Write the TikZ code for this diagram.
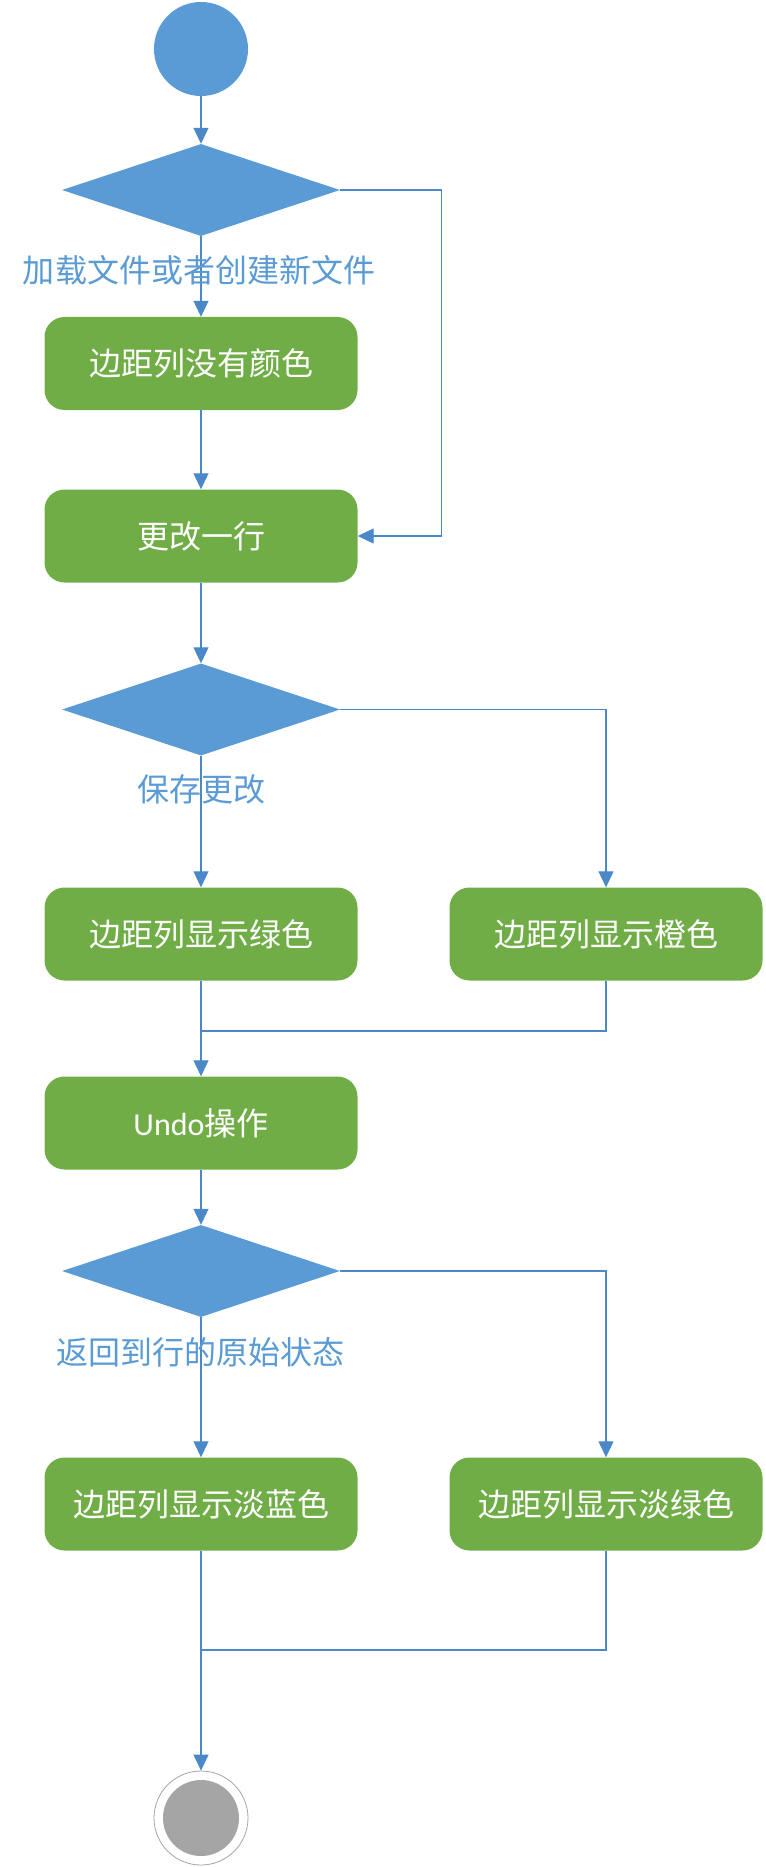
\documentclass[tikz,border=0pt]{standalone}
\usepackage{fontspec}
\newfontfamily\cjk{Noto Sans CJK SC}
\newfontfamily\lat{Carlito}
\usetikzlibrary{shapes.geometric,arrows.meta}
\definecolor{dblue}{HTML}{5B9BD5}
\definecolor{lblue}{HTML}{4A88C8}
\definecolor{bgreen}{HTML}{70AD47}
\definecolor{egray}{HTML}{A5A5A5}
\begin{document}
\begin{tikzpicture}[x=1pt,y=-1pt,
  line/.style={draw=lblue,line width=1.1pt},
  flow/.style={line,-{Triangle[length=16pt,width=15pt]}},
  actbox/.style={rectangle,rounded corners=20pt,fill=bgreen,minimum width=313pt,minimum height=93pt,inner sep=0pt,text=white,font=\cjk\fontsize{32}{38}\selectfont},
  decision/.style={diamond,fill=dblue,minimum width=278pt,minimum height=92pt,inner sep=0pt},
  guard/.style={text=dblue,font=\cjk\fontsize{32}{38}\selectfont,inner sep=0pt}]
\useasboundingbox (0,0) rectangle (765,1867);
\node[circle,fill=dblue,minimum size=94pt,inner sep=0pt] (start) at (201,49) {};
\node[decision] (d1) at (201,190) {};
\node[actbox] (b1) at (201,363.5) {边距列没有颜色};
\node[actbox] (b2) at (201,536) {更改一行};
\node[decision] (d2) at (201,709.5) {};
\node[actbox] (b3) at (201,934) {边距列显示绿色};
\node[actbox] (b4) at (606,934) {边距列显示橙色};
\node[actbox] (b5) at (201,1123) {{\lat Undo}操作};
\node[decision] (d3) at (201,1271) {};
\node[actbox] (b6) at (201,1504) {边距列显示淡蓝色};
\node[actbox] (b7) at (606,1504) {边距列显示淡绿色};
\node[circle,draw=egray,line width=0.8pt,minimum size=94pt,inner sep=0pt] (endo) at (201,1818) {};
\node[circle,fill=egray,minimum size=76pt,inner sep=0pt] (endi) at (201,1818) {};
\coordinate (r1) at (441.5,190);
\coordinate (m1) at (201,1031);
\coordinate (m2) at (201,1650);
\draw[flow] (start) -- (d1);
\draw[flow] (d1.south) -- (b1.north);
\draw[flow] (d1.east) -- (r1) |- (b2.east);
\draw[flow] (b1) -- (b2);
\draw[flow] (b2) -- (d2);
\draw[flow] (d2.south) -- (b3.north);
\draw[flow] (d2.east) -| (b4.north);
\draw[line] (b4.south) |- (m1);
\draw[flow] (b3.south) -- (b5.north);
\draw[flow] (b5) -- (d3);
\draw[flow] (d3.south) -- (b6.north);
\draw[flow] (d3.east) -| (b7.north);
\draw[line] (b7.south) |- (m2);
\draw[flow] (b6.south) -- (endo.north);
\node[guard] (g1) at (199,270) {加载文件或者创建新文件};
\node[guard] (g2) at (201,789) {保存更改};
\node[guard] (g3) at (200,1352) {返回到行的原始状态};
\end{tikzpicture}
\end{document}
